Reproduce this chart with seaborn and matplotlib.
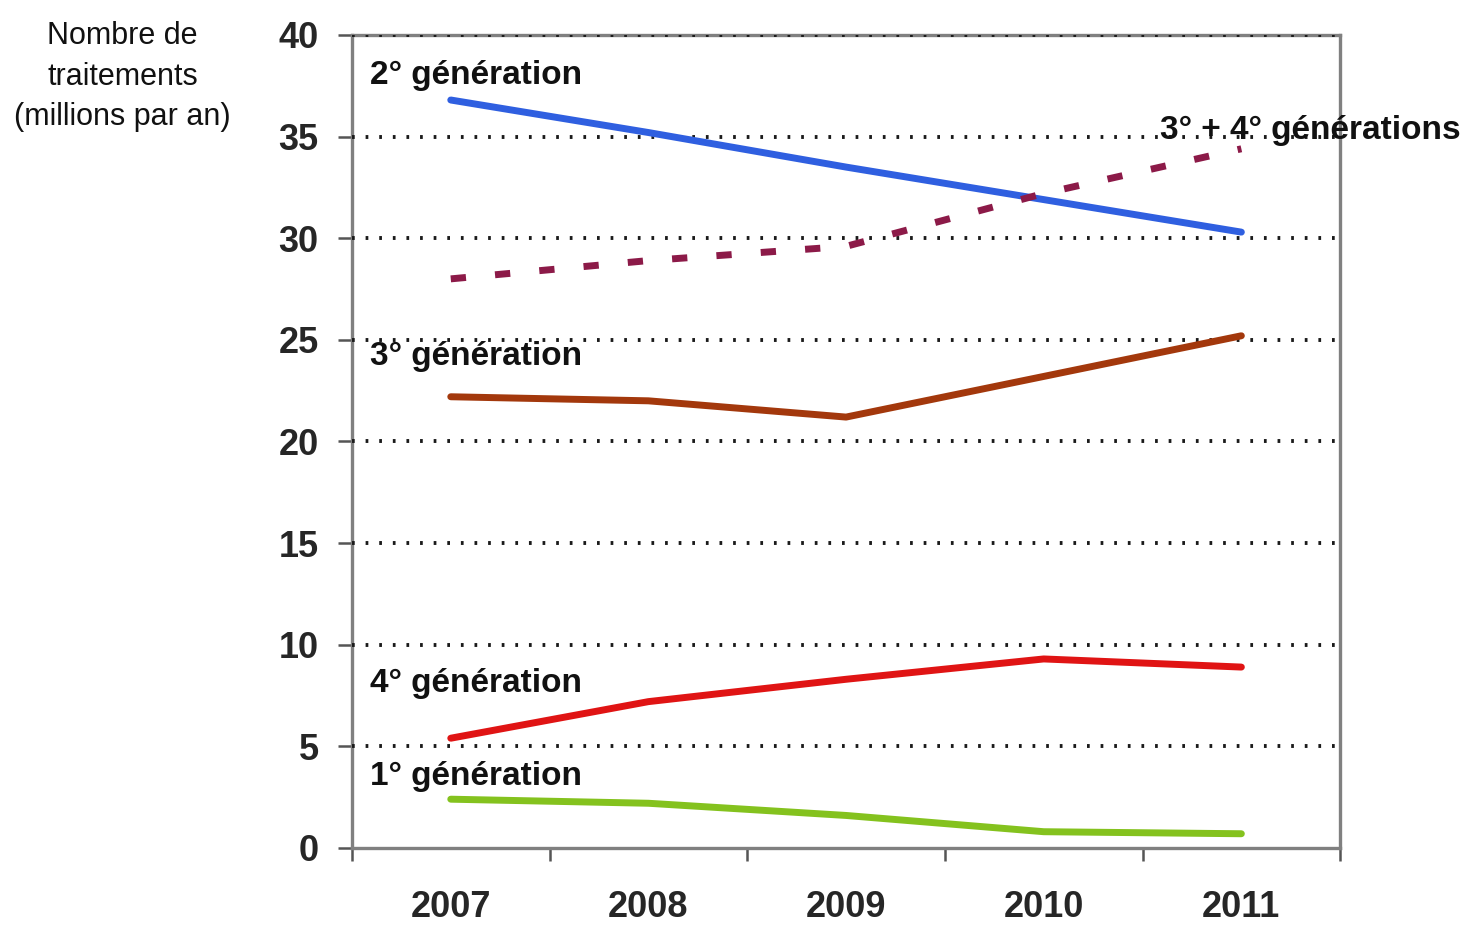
import seaborn as sns
import matplotlib.pyplot as plt
import pandas as pd
import numpy as np

# values (millions of treatments per year)
years = ['2007', '2008', '2009', '2010', '2011']
gen2 = [36.8, 35.2, 33.5, 31.9, 30.3]
gen34 = [28.0, 28.9, 29.6, 32.2, 34.4]
gen3 = [22.2, 22.0, 21.2, 23.2, 25.2]
gen4 = [5.4, 7.2, 8.3, 9.3, 8.9]
gen1 = [2.4, 2.2, 1.6, 0.8, 0.7]

series_names = ['2° génération', '3° + 4° générations', '3° génération',
                '4° génération', '1° génération']
series_values = [gen2, gen34, gen3, gen4, gen1]
colors = ['#2f5fe0', '#8c1a48', '#a3380c', '#e01414', '#84c21e']

rows = []
for name, vals in zip(series_names, series_values):
    for i, v in enumerate(vals):
        rows.append({'serie': name, 'x': i, 'val': v})
df = pd.DataFrame(rows)

sns.set_style('white')
font = ['Liberation Sans Narrow', 'Liberation Sans', 'DejaVu Sans']
plt.rcParams['font.family'] = font

fig = plt.figure(figsize=(14.75, 9.3), dpi=100)
ax = fig.add_axes([0.2386, 0.0882, 0.670, 0.8742])

# dotted grid
for yv in range(5, 45, 5):
    ax.axhline(yv, color='#1a1a1a', lw=2.8, ls=(0, (0.7, 2.8)), zorder=2.6)

sns.lineplot(data=df, x='x', y='val', hue='serie', style='serie',
             palette=dict(zip(series_names, colors)),
             dashes={n: ((2.2, 4.2) if n == '3° + 4° générations' else '') for n in series_names},
             linewidth=5, legend=False, ax=ax, zorder=3)

ax.set_xlim(-0.5, 4.5)
ax.set_ylim(0, 40)
ax.set_yticks(range(0, 45, 5))
ax.set_xticks(range(len(years)))
ax.set_xticklabels(years)
ax.set_xticks(np.arange(-0.5, 5, 1), minor=True)
ax.tick_params(axis='x', which='major', bottom=True, length=0, pad=30, labelsize=26)
ax.tick_params(axis='x', which='minor', bottom=True, length=9, width=1.8,
               color='#555555', direction='out')
ax.tick_params(axis='y', left=True, length=10, width=1.8, color='#555555',
               direction='out', pad=14, labelsize=26)
for lab in ax.get_xticklabels() + ax.get_yticklabels():
    lab.set_fontweight('bold')
ax.set_xlabel('')
ax.set_ylabel('')

for sp in ax.spines.values():
    sp.set_visible(True)
    sp.set_color('#808080')
    sp.set_linewidth(2.4)

# series labels
lab_kw = dict(fontsize=24, fontweight='bold', color='#111111', zorder=4)
ax.text(-0.41, 38.0, '2° génération', va='center', ha='left', **lab_kw)
ax.text(-0.41, 24.2, '3° génération', va='center', ha='left', **lab_kw)
ax.text(-0.41, 8.1, '4° génération', va='center', ha='left', **lab_kw)
ax.text(-0.41, 3.5, '1° génération', va='center', ha='left', **lab_kw)
ax.text(3.59, 35.3, '3° + 4° générations', va='center', ha='left',
        clip_on=False, **lab_kw)

fig.text(0.083, 0.977, 'Nombre de\ntraitements\n(millions par an)',
         ha='center', va='top', fontsize=22, color='#111111', linespacing=1.45)

fig.savefig('out.png', dpi=100)
